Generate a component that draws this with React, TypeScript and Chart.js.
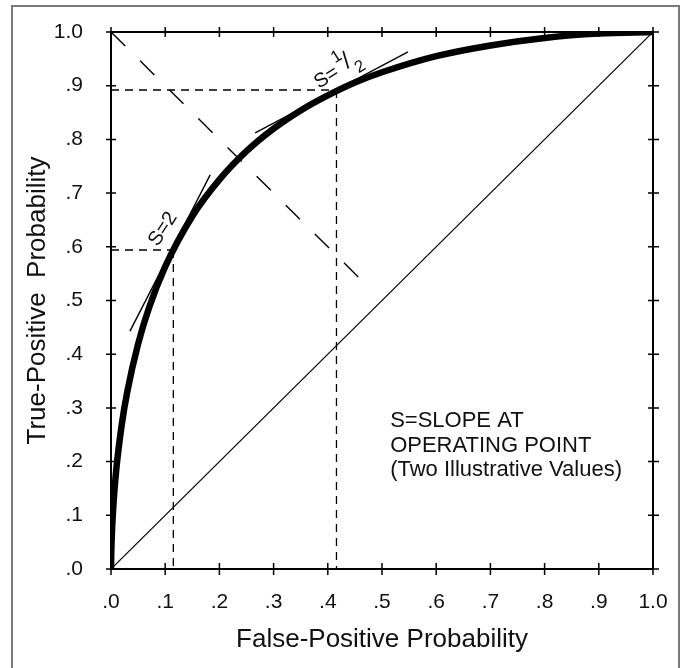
import React, { useEffect, useRef } from 'react';
import { Chart, registerables } from 'chart.js';

Chart.register(...registerables);

// ROC curve (false-positive vs true-positive probability)
const rocFpf = [0, 0.0003, 0.001, 0.002, 0.005, 0.01, 0.02, 0.03, 0.05, 0.07, 0.1, 0.15, 0.2, 0.25, 0.3, 0.35, 0.4, 0.45, 0.5, 0.6, 0.7, 0.8, 0.9, 1.0];
const rocTpf = [0, 0.022, 0.049, 0.075, 0.128, 0.188, 0.27, 0.33, 0.419, 0.486, 0.563, 0.657, 0.725, 0.778, 0.82, 0.854, 0.882, 0.906, 0.925, 0.955, 0.975, 0.989, 0.997, 1.0];

// chance line
const chanceX = [0, 1];
const chanceY = [0, 1];

// negative diagonal (long dashes)
const negDiagX = [0, 0.48];
const negDiagY = [1, 0.52];

// operating points
const opLowX = 0.115;
const opLowY = 0.594;
const opHighX = 0.416;
const opHighY = 0.892;

// tangent lines
const tanS2X = [0.035, 0.183];
const tanS2Y = [0.443, 0.734];
const tanHalfX = [0.266, 0.548];
const tanHalfY = [0.812, 0.963];

const tickLabels = ['.0', '.1', '.2', '.3', '.4', '.5', '.6', '.7', '.8', '.9', '1.0'];
const noteLines = ['S=SLOPE AT', 'OPERATING POINT', '(Two Illustrative Values)'];
const xTitle = 'False-Positive Probability';
const yTitle = 'True-Positive  Probability';

const FONT = '"Liberation Sans", Arial, Helvetica, sans-serif';

const pts = (xs: number[], ys: number[]) => xs.map((x, i) => ({ x, y: ys[i] }));

const decoPlugin = {
  id: 'deco',
  beforeDraw(chart: any) {
    const ctx = chart.ctx;
    ctx.save();
    ctx.strokeStyle = '#7a7a7a';
    ctx.lineWidth = 2;
    ctx.strokeRect(12, 6, 667, 700);
    ctx.restore();
  },
  afterDatasetsDraw(chart: any) {
    const { ctx, chartArea: a } = chart;
    const xs = chart.scales.x;
    const ys = chart.scales.y;
    ctx.save();
    ctx.strokeStyle = '#000';
    ctx.lineWidth = 2;
    ctx.strokeRect(a.left, a.top, a.right - a.left, a.bottom - a.top);
    ctx.lineWidth = 1.5;
    ctx.beginPath();
    xs.ticks.forEach((t: any) => {
      const px = xs.getPixelForValue(t.value);
      ctx.moveTo(px, a.top - 5);
      ctx.lineTo(px, a.top + 5);
      ctx.moveTo(px, a.bottom - 6);
      ctx.lineTo(px, a.bottom + 6);
    });
    ys.ticks.forEach((t: any) => {
      const py = ys.getPixelForValue(t.value);
      ctx.moveTo(a.left - 5, py);
      ctx.lineTo(a.left + 5, py);
      ctx.moveTo(a.right - 5, py);
      ctx.lineTo(a.right + 6, py);
    });
    ctx.stroke();

    ctx.fillStyle = '#111';
    // note
    ctx.font = `22px ${FONT}`;
    ctx.textAlign = 'left';
    ctx.textBaseline = 'middle';
    const nx = xs.getPixelForValue(0.515);
    const ny = ys.getPixelForValue(0.275);
    noteLines.forEach((l, i) => ctx.fillText(l, nx, ny + i * 24.5));

    // S=2 label
    ctx.save();
    ctx.translate(xs.getPixelForValue(0.096), ys.getPixelForValue(0.633));
    ctx.rotate((-57 * Math.PI) / 180);
    ctx.font = `20px ${FONT}`;
    ctx.textAlign = 'center';
    ctx.textBaseline = 'middle';
    ctx.fillText('S=2', 0, 0);
    ctx.restore();

    // S=1/2 label
    ctx.save();
    ctx.translate(xs.getPixelForValue(0.3836), ys.getPixelForValue(0.894));
    ctx.rotate((-32 * Math.PI) / 180);
    ctx.textAlign = 'left';
    ctx.textBaseline = 'alphabetic';
    ctx.font = `20px ${FONT}`;
    ctx.fillText('S=', 0, 0);
    ctx.font = `17px ${FONT}`;
    ctx.fillText('1', 27, -13);
    ctx.font = `24px ${FONT}`;
    ctx.fillText('/', 35, -2);
    ctx.font = `17px ${FONT}`;
    ctx.fillText('2', 42, 8);
    ctx.restore();

    ctx.restore();
  },
};

export default function App() {
  const ref = useRef<HTMLCanvasElement>(null);
  useEffect(() => {
    if (!ref.current) return;
    Chart.defaults.font.family = FONT;
    const dashShort = [8, 6];
    const chart = new Chart(ref.current, {
      type: 'scatter',
      data: {
        datasets: [
          {
            data: pts(rocFpf, rocTpf),
            showLine: true,
            borderColor: '#000',
            borderWidth: 6.5,
            pointRadius: 0,
            cubicInterpolationMode: 'monotone',
            borderCapStyle: 'butt',
          },
          { data: pts(tanS2X, tanS2Y), showLine: true, borderColor: '#000', borderWidth: 1.4, pointRadius: 0 },
          { data: pts(tanHalfX, tanHalfY), showLine: true, borderColor: '#000', borderWidth: 1.4, pointRadius: 0 },
          { data: pts(chanceX, chanceY), showLine: true, borderColor: '#000', borderWidth: 1.2, pointRadius: 0 },
          { data: pts(negDiagX, negDiagY), showLine: true, borderColor: '#000', borderWidth: 1.4, pointRadius: 0, borderDash: [20, 21] },
          { data: pts([0, opHighX], [opHighY, opHighY]), showLine: true, borderColor: '#000', borderWidth: 1.3, pointRadius: 0, borderDash: dashShort },
          { data: pts([opHighX, opHighX], [opHighY, 0]), showLine: true, borderColor: '#000', borderWidth: 1.3, pointRadius: 0, borderDash: dashShort },
          { data: pts([0, opLowX], [opLowY, opLowY]), showLine: true, borderColor: '#000', borderWidth: 1.3, pointRadius: 0, borderDash: dashShort },
          { data: pts([opLowX, opLowX], [opLowY, 0]), showLine: true, borderColor: '#000', borderWidth: 1.3, pointRadius: 0, borderDash: dashShort },
        ],
      },
      options: {
        responsive: false,
        animation: false,
        layout: { padding: { top: 32, right: 32, left: 0, bottom: 0 } },
        plugins: { legend: { display: false }, tooltip: { enabled: false } },
        scales: {
          x: {
            type: 'linear',
            min: 0,
            max: 1,
            grid: { display: false, drawTicks: false },
            border: { display: false },
            ticks: {
              stepSize: 0.1,
              padding: 21,
              color: '#111',
              font: { size: 21, family: FONT },
              maxRotation: 0,
              callback: (_v: any, i: number) => tickLabels[i],
            },
            title: { display: true, text: xTitle, color: '#111', font: { size: 26, family: FONT }, padding: { top: 0, bottom: 12.4 } },
            afterFit: (s: any) => {
              s.height = 99;
              s.paddingLeft = 0;
              s.paddingRight = 0;
            },
          },
          y: {
            type: 'linear',
            min: 0,
            max: 1,
            grid: { display: false, drawTicks: false },
            border: { display: false },
            ticks: {
              stepSize: 0.1,
              padding: 28,
              color: '#111',
              font: { size: 21, family: FONT },
              callback: (_v: any, i: number) => tickLabels[i],
            },
            title: { display: true, text: yTitle, color: '#111', font: { size: 26, family: FONT }, padding: { top: 22, bottom: 0 } },
            afterFit: (s: any) => {
              s.width = 111;
              s.paddingTop = 0;
              s.paddingBottom = 0;
            },
          },
        },
      },
      plugins: [decoPlugin],
    } as any);
    return () => chart.destroy();
  }, []);
  return (
    <div style={{ position: 'absolute', left: 0, top: 0, width: 685, height: 668, background: '#fff', overflow: 'hidden' }}>
      <canvas ref={ref} width={685} height={668} style={{ display: 'block' }} />
    </div>
  );
}
